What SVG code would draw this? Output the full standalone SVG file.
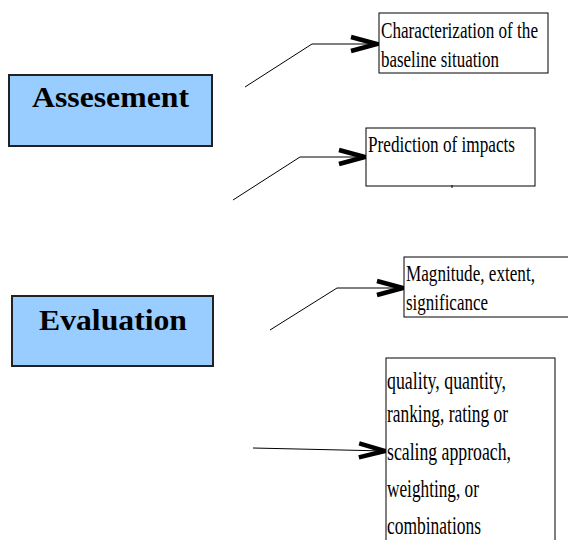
<svg xmlns="http://www.w3.org/2000/svg" width="568" height="540" viewBox="0 0 568 540">
<style>
.main{fill:#99ccff;stroke:#222;stroke-width:2}
.box{fill:#fff;stroke:#000;stroke-width:1}
.title{font-family:"Liberation Serif",serif;font-weight:bold;font-size:30px;fill:#000}
.lbl{font-family:"Liberation Serif",serif;font-size:23px;fill:#000}
.lbl2{font-family:"Liberation Serif",serif;font-size:26px;fill:#000}
.con{fill:none;stroke:#000;stroke-width:1}
</style>
<defs>
<marker id="chev" markerUnits="userSpaceOnUse" markerWidth="34" markerHeight="22" refX="29" refY="10" orient="auto" overflow="visible">
<path d="M2,3 L28,10 L2,17" fill="none" stroke="#000" stroke-width="4.5" stroke-linejoin="miter"/>
</marker>
</defs>
<g id="connectors">
<polyline class="con" points="245,87 312,44 378,44" marker-end="url(#chev)"/>
<polyline class="con" points="233,200 300,157 366,157" marker-end="url(#chev)"/>
<polyline class="con" points="270,330 337,288 404,288" marker-end="url(#chev)"/>
<polyline class="con" points="253,448 386,451" marker-end="url(#chev)"/>
</g>
<g id="assesement">
<rect class="main" x="9" y="75" width="203" height="71"/>
<text class="title" x="32" y="107" textLength="157" lengthAdjust="spacingAndGlyphs">Assesement</text>
</g>
<g id="evaluation">
<rect class="main" x="12" y="296" width="201" height="70"/>
<text class="title" x="39" y="330" textLength="148" lengthAdjust="spacingAndGlyphs">Evaluation</text>
</g>
<g id="characterization">
<rect class="box" x="379" y="13" width="169" height="60"/>
<text class="lbl" x="381" y="38" textLength="157" lengthAdjust="spacingAndGlyphs">Characterization of the</text>
<text class="lbl" x="381" y="67" textLength="118" lengthAdjust="spacingAndGlyphs">baseline situation</text>
</g>
<g id="prediction">
<rect class="box" x="366" y="128" width="169" height="58"/>
<line x1="452" y1="185" x2="452" y2="188" stroke="#000" stroke-width="1"/>
<text class="lbl" x="368" y="152" textLength="147" lengthAdjust="spacingAndGlyphs">Prediction of impacts</text>
</g>
<g id="magnitude">
<rect class="box" x="404" y="257" width="170" height="60"/>
<text class="lbl" x="406" y="281" textLength="129" lengthAdjust="spacingAndGlyphs">Magnitude, extent,</text>
<text class="lbl" x="406" y="310" textLength="82" lengthAdjust="spacingAndGlyphs">significance</text>
</g>
<g id="quality">
<rect class="box" x="386" y="358" width="169" height="200"/>
<text class="lbl2" x="387" y="389" textLength="119" lengthAdjust="spacingAndGlyphs">quality, quantity,</text>
<text class="lbl2" x="387" y="422" textLength="121" lengthAdjust="spacingAndGlyphs">ranking, rating or</text>
<text class="lbl2" x="387" y="460" textLength="124" lengthAdjust="spacingAndGlyphs">scaling approach,</text>
<text class="lbl2" x="387" y="497" textLength="92" lengthAdjust="spacingAndGlyphs">weighting, or</text>
<text class="lbl2" x="387" y="534" textLength="94" lengthAdjust="spacingAndGlyphs">combinations</text>
</g>
</svg>
